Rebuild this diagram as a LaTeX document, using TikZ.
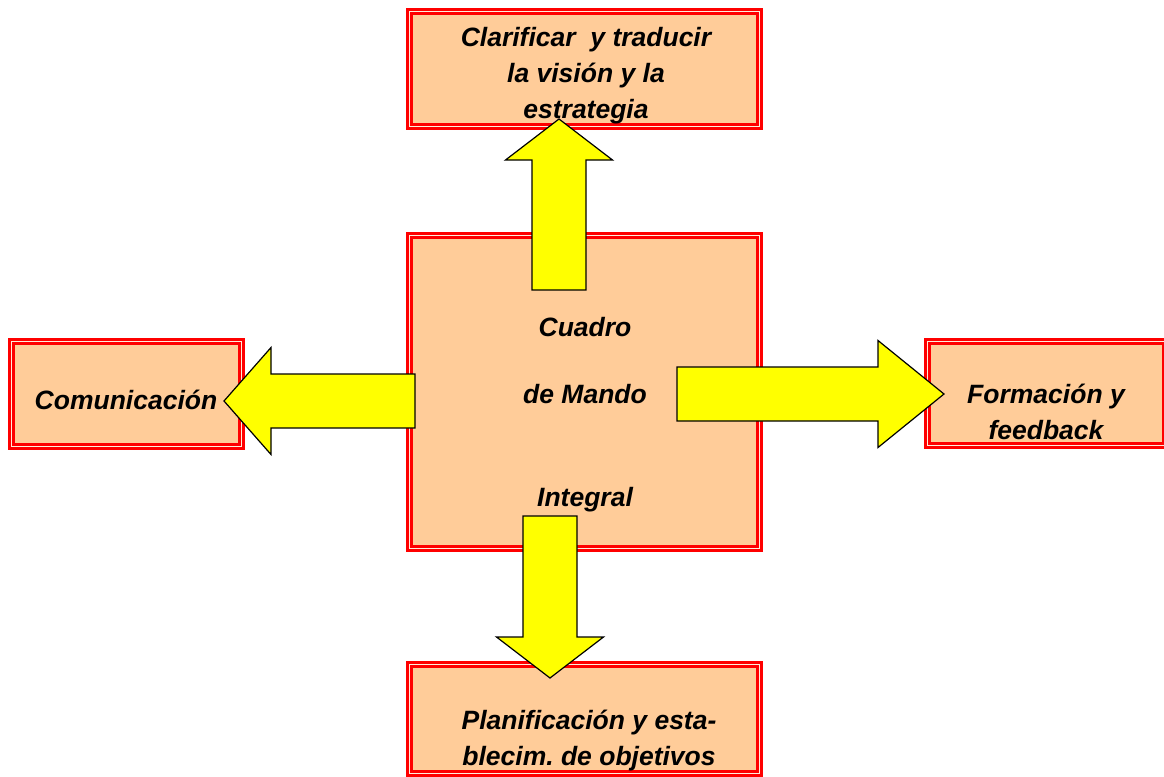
\documentclass[tikz,border=0pt]{standalone}
\usepackage{fontspec}
\setmainfont{Liberation Sans}
\usetikzlibrary{calc}
\usepackage{xcolor}
\definecolor{peach}{HTML}{FFCC99}
\definecolor{boxred}{HTML}{FF0000}
\definecolor{arrowyellow}{HTML}{FFFF00}
\def\shaftw{27pt}
\def\headw{53.5pt}

% block arrow from tail #1 to tip #2, head length #3
\newcommand{\bigarrow}[3]{%
  \coordinate (hb) at ($(#2)!#3!(#1)$);
  \draw[yellow arrow] ($(#1)!\shaftw!90:(#2)$) -- ($(hb)!\shaftw!-90:(#1)$)
    -- ($(hb)!\headw!-90:(#1)$) -- (#2) -- ($(hb)!\headw!90:(#1)$)
    -- ($(hb)!\shaftw!90:(#1)$) -- ($(#1)!\shaftw!-90:(#2)$) -- cycle;}

\begin{document}
\frenchspacing
\begin{tikzpicture}[x=1pt,y=-1pt]
    \tikzstyle{box}=[rectangle, inner sep=0pt, fill=peach, draw=boxred, line width=2.6pt, double=peach!35!white, double distance=1.8pt]
    \tikzstyle{yellow arrow}=[fill=arrowyellow, draw=black, line width=1.2pt, line join=miter]
    \tikzstyle{label}=[font=\fontsize{26.5}{36}\selectfont\bfseries\itshape, align=center, inner sep=0pt]

    \useasboundingbox (0,0) rectangle (1164,776);
    \clip (0,0) rectangle (1164,776);

    \node[box, minimum width=350pt, minimum height=115pt] (vision) at (584.5,69) {};
    \node[box, minimum width=350pt, minimum height=313pt] (cmi) at (584.5,392) {};
    \node[box, minimum width=230pt, minimum height=105pt] (com) at (126.5,394) {};
    \node[box, minimum width=237.5pt, minimum height=104pt] (form) at (1046.25,393.5) {};
    \node[box, minimum width=350pt, minimum height=109pt] (plan) at (584.5,719) {};

    \coordinate (up-tail) at (559,290);
    \coordinate (up-tip) at (559,119);
    \coordinate (left-tail) at (415,401);
    \coordinate (left-tip) at (224,401);
    \coordinate (right-tail) at (677,394);
    \coordinate (right-tip) at (944,394);
    \coordinate (down-tail) at (550,516);
    \coordinate (down-tip) at (550,678);

    \bigarrow{up-tail}{up-tip}{41pt}
    \bigarrow{left-tail}{left-tip}{47pt}
    \bigarrow{right-tail}{right-tip}{66pt}
    \bigarrow{down-tail}{down-tip}{41pt}

    \node[label] (vision-txt) at (586,76) {Clarificar~ y traducir\\la visión y la\\estrategia};
    \node[label] (cmi-txt) at (585,415) {Cuadro\\[31pt]de Mando\\[67pt]Integral};
    \node[label] (com-txt) at (126,400) {Comunicación};
    \node[label] (form-txt) at (1046,412) {Formación y\\feedback};
    \node[label] (plan-txt) at (589,741) {Planificación y esta-\\blecim. de objetivos};
\end{tikzpicture}
\end{document}
